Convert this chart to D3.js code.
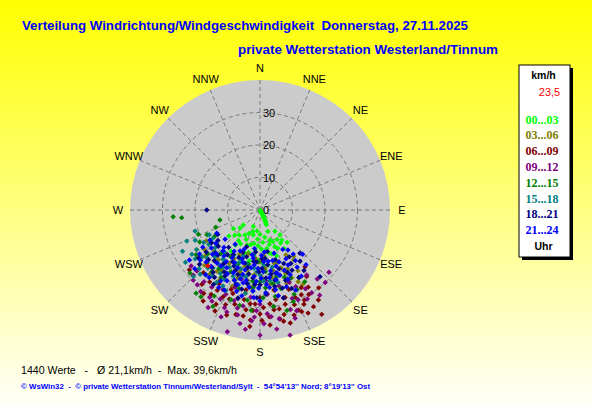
<!DOCTYPE html>
<html><head><meta charset="utf-8">
<script src="https://cdn.jsdelivr.net/npm/d3@7"></script>
<style>html,body{margin:0;padding:0;overflow:hidden;background:#fff}text{white-space:pre}</style>
</head><body><svg id="c" width="592" height="407"></svg>
<script>
// ---------- data ----------
const directions = ["N","NNE","NE","ENE","E","ESE","SE","SSE","S","SSW","SW","WSW","W","WNW","NW","NNW"];
const ringTicks = [0,10,20,30];
const gridRings = [10,20,30];
const legendLabels = ["00...03","03...06","06...09","09...12","12...15","15...18","18...21","21...24"];
const currentSpeedText = "23,5";
const currentPoint = [223,23.5];
// [direction deg, speed km/h]
const h00_03 = [[150,0.2],[150,0.5],[151,0.8],[151,1.1],[152,1.4],[152,1.7],[152,2],[153,2.3],[153,2.6],[153,2.9],[154,3.2],[154,3.5],[155,3.8],[155,4.1],[156,4.5],[157,4.9],
 [228,6.9],[202,5.5],[144,11.4],[158,12.2],[211,9],[162,9.7],[187,12.4],[141,9.8],[215,13.2],[174,14.8],[228,8.3],[195,8],[180,7.5],[170,8.5],[165,11],[190,10.5],[200,11.5],[175,10],[185,9],[205,10],[220,10],[150,10.5],[155,13],[168,13.5],[178,12],[195,13.5],[210,12],[225,11],[160,15],[148,14],[140,13],[182,15.5],[192,16],[172,17],[215,15.5],[230,12.5],[198,7],[188,6.5],[160,7],[145,8],
 [235,10],[205,8],[183,11],[170,12],[158,10.5],[195,11],[215,11.5],[148,12],[178,16],[165,14],[200,14],[188,14]];
const h03_06 = [[144,17.6],[146,18.5],[150,26.4],[148,22],[155,20],[160,19],[165,17],[170,21],[175,18],[180,16],[185,20],[190,22],[195,18],[200,16],[205,21],[210,19],[215,23],[220,20],[225,24],[230,22],[160,24],[170,25],[180,23],[190,26],[200,25],[175,14],[185,15],[195,14],[205,15],[150,16],[155,23],[165,21],[210,25],[220,17],[235,21],[240,19],[168,19],[182,18],[198,20],[212,22],
 [158,21],[172,23],[186,24],[198,22],[208,17],[218,25],[228,19],[178,21],[192,19],[162,17],[152,25],[238,23]];
const h06_09 = [[141.6,22.3],[149.4,37.3],[153.8,30.9],[157.7,33.8],[169.6,34.1],[197.6,33.9],[229.7,28.5],
 [145,25],[148,28],[150,30],[152,27],[155,32],[158,29],[160,31],[162,34],[165,30],[167,33],[170,28],[172,31],[175,33],[178,30],[180,32],[183,29],[185,34],[188,31],[190,28],[193,33],[195,30],[198,27],[200,31],[203,29],[205,32],[208,28],[210,30],[215,27],[218,29],[222,26],[160,26],[170,25],[180,27],[190,25],[200,26],[155,35],[175,35.5],[165,36],[185,36],[143,30],[147,33],[212,33],
 [154,29],[164,28],[174,29],[184,31],[194,28],[204,34],[214,31],[159,33],[169,31],[179,34],[189,33],[199,29],[209,26],[151,34],[168,35],[186,29]];
const h09_12 = [[132.1,28.6],[140.3,27.6],[144.3,24.6],[166.5,39.6],[180,38.5],[184.3,34.2],[195,38.8],[207.8,31.7],[223.6,29.8],[225.7,28.7],[230.9,27.3],
 [150,28],[155,26],[160,29],[163,32],[168,27],[172,30],[176,32],[180,29],[182,31],[186,27],[190,30],[192,33],[196,29],[200,32],[204,30],[208,34],[212,28],[216,31],[220,30],[158,24],[166,24],[175,26],[188,24],[198,25],[170,34],[178,35],[190,35.5],[200,35],[160,33],[152,31],[145,32],[138,30],[205,27],[215,25],[175,22],[185,22],[195,22],
 [148,30],[157,30],[165,28],[174,33],[183,33],[193,31],[202,28],[210,31],[218,28],[226,27],[162,35],[187,37],[198,33],[172,37]];
const h12_15 = [[265.6,26.8],[264.4,24.2],[256,12.7],[248.7,14.6],[248.5,20.4],[217.5,32.3],[214.2,32.3],
 [235,24],[230,21],[225,23],[220,26],[215,22],[210,24],[205,21],[200,23],[195,25],[190,20],[185,24],[180,22],[175,19],[170,23],[165,25],[160,22],[155,27],[150,24],[185,31],[172,30],[165,32],[158,28],[208,30],[198,29],[240,16],[245,18],[232,17],[222,18],[212,17],[202,18],[192,17],[182,16],[178,27],[188,28],
 [242,21],[228,25],[218,24],[208,22],[196,21],[186,22],[176,24],[166,21],[156,23],[148,26],[228,29],[206,33],[170,27],[192,30],[160,30]];
const h15_18 = [[247,24.5],[244,17.4],[240,20],[238,23],[236,19],[233,25],[230,18],[228,22],[226,26],[224,20],[222,24],[220,17],[218,21],[216,25],[214,19],[212,23],[210,16],[208,20],[206,26],[204,18],[202,22],[200,15],[198,19],[196,24],[194,17],[192,21],[190,26],[188,14],[186,18],[184,23],[180,20],[176,17],[172,22],[168,18],[164,21],[160,17],[252,21],[242,27],[235,28],[225,29],
 [245,22],[239,17],[231,23],[227,19],[219,23],[213,21],[207,24],[201,17],[195,21],[189,23],[183,19],[177,22],[171,20],[166,23],[211,26],[223,27],[237,25],[217,19],[203,27],[185,25]];
const h18_21 = [[270,16.4],[137.3,18.1],[138,27.6],[142,20],[148,17],[152,21],[156,18],[160,23],[163,16],[166,20],[169,24],[172,17],[175,21],[178,15],[181,19],[184,23],[187,16],[190,20],[193,25],[196,17],[199,21],[202,14],[205,19],[208,23],[211,16],[214,20],[217,24],[220,15],[223,19],[226,22],[229,17],[232,21],[236,18],[240,15],[158,26],[176,26],[194,28],[212,27],[170,13],[186,13],[200,12],[150,24],[165,28],[182,27],
 [162,19],[168,22],[174,15],[180,23],[186,21],[192,18],[198,24],[204,16],[210,22],[216,17],[222,21],[228,25],[234,16],[164,25],[178,18],[190,23],[202,20],[214,25],[226,19],[156,21],[150,19],[144,23],[170,20],[184,16],[196,15],[208,18],[220,23],[232,24]];
const h21_24 = [[241.7,15.1],[234.7,26.6],[136,18.9],[140,22],[145,19],[148,24],[152,17],[155,22],[158,20],[161,25],[164,18],[167,22],[170,19],[173,24],[176,16],[179,21],[182,18],[185,25],[188,15],[191,22],[194,19],[197,24],[200,16],[203,21],[206,18],[209,25],[212,15],[215,21],[218,18],[221,23],[224,16],[227,20],[230,24],[233,17],[237,21],[162,14],[174,13],[188,12],[202,13],[216,13],[168,27],[180,28],[192,27],[204,27],[156,27],[220,26],[150,14],[145,15],[185,20.5],[195,20.5],[175,23],[165,20],[210,20.5],[225,19],[230,14],
 [163,21],[171,16],[177,19],[183,22],[189,18],[196,22],[201,19],[207,22],[213,19],[219,21],[226,23],[232,19],[169,25],[181,24],[193,23],[205,24],[217,26],[228,27],[160,17],[172,21],[186,17],[198,17],[210,17],[222,17],[234,23],[178,14],[190,14],[206,14],[158,23],[166,16],[184,27],[196,26],[208,27],[153,19],[147,21],[143,17],[239,18],[176,25.5],[188,24],[200,23]];
const groups = [h00_03,h03_06,h06_09,h09_12,h12_15,h15_18,h18_21,h21_24];

// ---------- styles ----------
const groupColors = ["#00ff00","#808000","#800000","#800080","#008000","#008080","#000080","#0000ff"];
const W = 592, H = 407, cx = 260, cy = 210, R = 130;

const svg = d3.select("#c");
const defs = svg.append("defs");
const bg = defs.append("linearGradient").attr("id","bg").attr("x1",0).attr("y1",0).attr("x2",0).attr("y2",1);
bg.append("stop").attr("offset","0%").attr("stop-color","#ffff00");
bg.append("stop").attr("offset","100%").attr("stop-color","#fffffa");
svg.append("rect").attr("width",W).attr("height",H).attr("fill","url(#bg)");

// titles
svg.append("text").attr("x",22).attr("y",29.5).attr("textLength",446).attr("lengthAdjust","spacingAndGlyphs")
  .attr("font-family","Arial, 'Liberation Sans', sans-serif").attr("font-weight","bold").attr("font-size",13).attr("fill","#0000ff")
  .text("Verteilung Windrichtung/Windgeschwindigkeit  Donnerstag, 27.11.2025");
svg.append("text").attr("x",238).attr("y",54).attr("textLength",260).attr("lengthAdjust","spacingAndGlyphs")
  .attr("font-family","Arial, 'Liberation Sans', sans-serif").attr("font-weight","bold").attr("font-size",13).attr("fill","#0000ff")
  .text("private Wetterstation Westerland/Tinnum");

const r = d3.scaleLinear().domain([0,40]).range([0,R]);
const ang = d3.scaleLinear().domain([0,360]).range([0,2*Math.PI]);
const g = svg.append("g").attr("transform",`translate(${cx},${cy})`);

g.append("circle").attr("r",R).attr("fill","#cbcbcb");

// spokes
const spokeAngles = d3.range(16).map(i => i*22.5);
g.selectAll(".spoke").data(spokeAngles).join("line")
  .attr("x1",0).attr("y1",0)
  .attr("x2",d => d3.pointRadial(ang(d),R)[0]).attr("y2",d => d3.pointRadial(ang(d),R)[1])
  .attr("stroke","#7a7a7a").attr("stroke-width",1).attr("stroke-dasharray","4,3");
g.selectAll(".ring").data(gridRings).join("circle")
  .attr("r",d => r(d)).attr("fill","none").attr("stroke","#7a7a7a").attr("stroke-width",1).attr("stroke-dasharray","4,3");

// direction labels
g.selectAll(".dir").data(directions).join("text")
  .attr("x",(d,i) => d3.pointRadial(ang(i*22.5),142)[0])
  .attr("y",(d,i) => d3.pointRadial(ang(i*22.5),142)[1])
  .attr("text-anchor","middle").attr("dominant-baseline","central")
  .attr("font-family","Arial, 'Liberation Sans', sans-serif").attr("font-size",11).attr("fill","#000")
  .text(d => d);

// ring labels
g.selectAll(".rl").data(ringTicks).join("text")
  .attr("x",3).attr("y",d => -r(d)).attr("dominant-baseline","central")
  .attr("font-family","Arial, 'Liberation Sans', sans-serif").attr("font-size",11).attr("fill","#000")
  .text(d => d);

// points
const marker = "M0,-2.7L2.7,0L0,2.7L-2.7,0Z";
groups.forEach((pts,gi) => {
  g.append("g").selectAll("path").data(pts).join("path")
    .attr("d",marker)
    .attr("transform",d => { const p = d3.pointRadial(ang(d[0]), r(d[1])); return `translate(${p[0]},${p[1]})`; })
    .attr("fill",groupColors[gi]);
});
{
  const p = d3.pointRadial(ang(currentPoint[0]), r(currentPoint[1]));
  g.append("path").attr("d",marker).attr("transform",`translate(${p[0]},${p[1]})`).attr("fill","#ff0000");
}

// legend
const lx = 519, ly = 65, lw = 51, lh = 192;
svg.append("rect").attr("x",lx+3).attr("y",ly+3).attr("width",lw).attr("height",lh).attr("fill","#000");
svg.append("rect").attr("x",lx).attr("y",ly).attr("width",lw).attr("height",lh).attr("fill","#fff").attr("stroke","#000").attr("stroke-width",1);
svg.append("text").attr("x",543.5).attr("y",75).attr("text-anchor","middle").attr("dominant-baseline","central")
  .attr("font-family","Arial, 'Liberation Sans', sans-serif").attr("font-weight","bold").attr("font-size",10.5).text("km/h");
svg.append("text").attr("x",549.5).attr("y",92).attr("text-anchor","middle").attr("dominant-baseline","central")
  .attr("font-family","Arial, 'Liberation Sans', sans-serif").attr("font-size",11).attr("fill","#ff0000").text(currentSpeedText);
svg.selectAll(".leg").data(legendLabels).join("text")
  .attr("x",542).attr("y",(d,i) => 119.5 + i*15.8).attr("text-anchor","middle").attr("dominant-baseline","central")
  .attr("font-family","'Liberation Serif', 'Times New Roman', serif").attr("font-weight","bold").attr("font-size",12)
  .attr("fill",(d,i) => groupColors[i]).text(d => d);
svg.append("text").attr("x",543.5).attr("y",245.5).attr("text-anchor","middle").attr("dominant-baseline","central")
  .attr("font-family","Arial, 'Liberation Sans', sans-serif").attr("font-weight","bold").attr("font-size",10.5).text("Uhr");

// bottom texts
svg.append("text").attr("x",21).attr("y",373.5).attr("textLength",216).attr("lengthAdjust","spacingAndGlyphs")
  .attr("font-family","Arial, 'Liberation Sans', sans-serif").attr("font-size",11).attr("fill","#000")
  .text("1440 Werte   -   Ø 21,1km/h  -  Max. 39,6km/h");
svg.append("text").attr("x",21).attr("y",389).attr("textLength",349).attr("lengthAdjust","spacingAndGlyphs")
  .attr("font-family","Arial, 'Liberation Sans', sans-serif").attr("font-size",8).attr("font-weight","bold").attr("fill","#0000ff")
  .text("© WsWin32  -  © private Wetterstation Tinnum/Westerland/Sylt  -  54°54'13'' Nord; 8°19'13'' Ost");
</script></body></html>
